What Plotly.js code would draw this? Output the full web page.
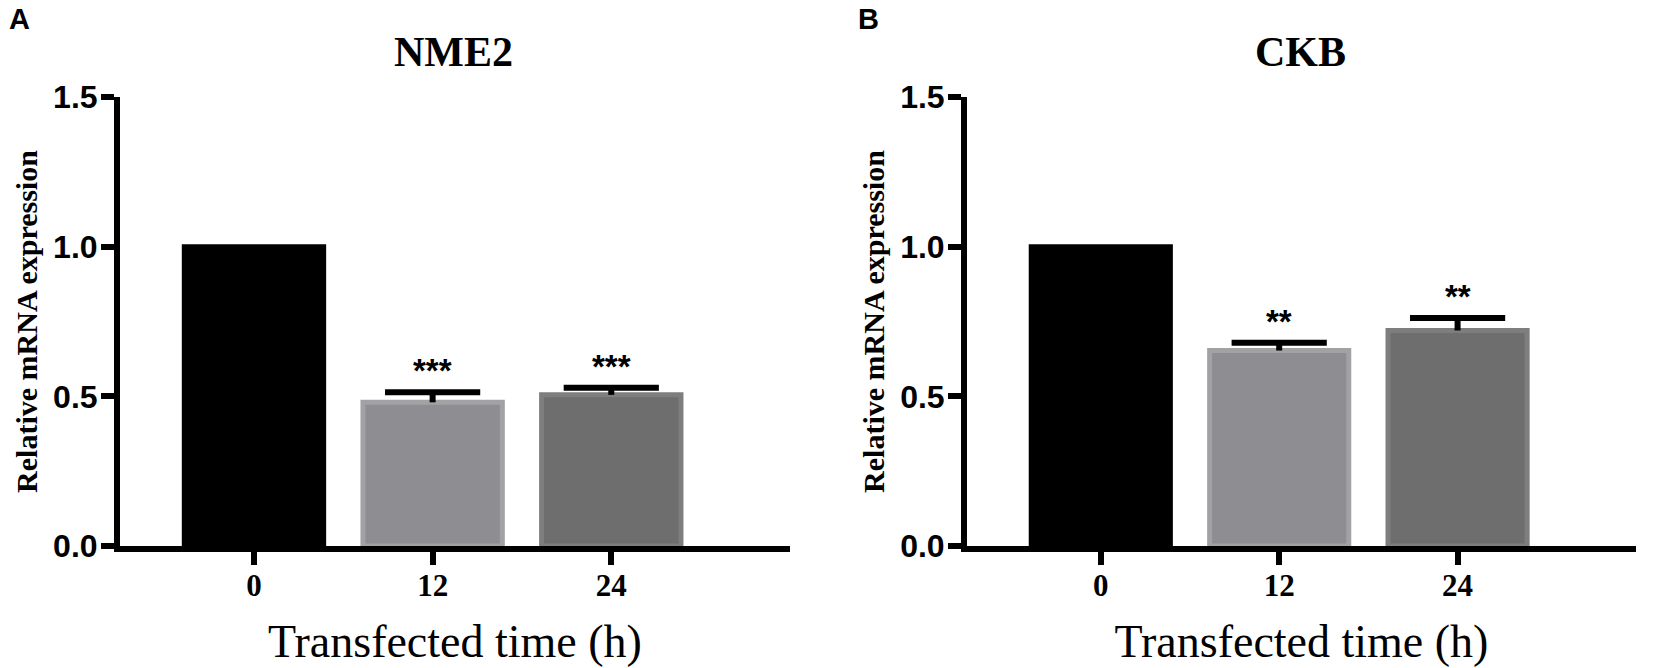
<!DOCTYPE html>
<html>
<head>
<meta charset="utf-8">
<script src="https://cdn.plot.ly/plotly-3.0.1.min.js"></script>
<style>
  body { margin: 0; background: #fff; }
  #chart { width: 1655px; height: 668px; }
</style>
</head>
<body>
<div id="chart"></div>
<script>
// hours after transfection
var times = ["0", "12", "24"]

// NME2 panel
var nme2Mean = [1.0, 0.48, 0.505]
var nme2Sem = [0, 0.034, 0.024]
var nme2Sig = ["", "***", "***"]

// CKB panel
var ckbMean = [1.0, 0.653, 0.72]
var ckbSem = [0, 0.026, 0.042]
var ckbSig = ["", "**", "**"]

var barFill = ["#000000", "#8e8e92", "#6e6e6e"]
var barEdge = ["#000000", "#a2a2a5", "#7e7e7e"]

var SERIF = "Liberation Serif, Times New Roman, serif"
var SANS = "Liberation Sans, Arial, sans-serif"

function barTrace(means, sem, xa, ya) {
    return {
        type: "bar",
        x: times,
        y: means,
        xaxis: xa,
        yaxis: ya,
        width: 0.78,
        marker: { color: barFill, line: { color: barEdge, width: 5 } },
        // stem only, the cap is drawn by capTrace
        error_y: {
            type: "data",
            symmetric: false,
            array: sem,
            arrayminus: [0, 0, 0],
            color: "#000",
            thickness: 6,
            width: 0,
        },
        showlegend: false,
    }
}

function capTrace(means, sem, xa, ya) {
    return {
        type: "scatter",
        mode: "markers",
        x: times,
        y: means.map(function (m, i) { return sem[i] ? m + sem[i] : null }),
        xaxis: xa,
        yaxis: ya,
        marker: { symbol: "line-ew", size: 68, line: { color: "#000", width: 6 } },
        showlegend: false,
    }
}

function starNotes(means, sem, sig, xa, ya) {
    var notes = []
    for (var i = 0; i < times.length; i++) {
        if (!sig[i]) continue
        notes.push({
            x: i,
            y: means[i] + sem[i],
            xref: xa,
            yref: ya,
            text: "<b>" + sig[i] + "</b>",
            showarrow: false,
            yanchor: "bottom",
            yshift: 1,
            font: { family: SANS, size: 33, color: "#000" },
        })
    }
    return notes
}

function xAxis(domain, anchor) {
    return {
        domain: domain,
        anchor: anchor,
        type: "category",
        range: [-0.75, 3.0],
        showline: true,
        linecolor: "#000",
        linewidth: 6,
        ticks: "outside",
        ticklen: 13,
        tickwidth: 6,
        tickcolor: "#000",
        ticklabelstandoff: -6,
        tickfont: { family: SERIF, size: 31, color: "#000", weight: "bold" },
        showgrid: false,
        zeroline: false,
        title: {
            text: "Transfected time (h)",
            font: { family: SERIF, size: 46, color: "#000" },
            standoff: 25,
        },
    }
}

function yAxis(domain, anchor) {
    return {
        domain: domain,
        anchor: anchor,
        range: [0, 1.5],
        tickvals: [0, 0.5, 1.0, 1.5],
        ticktext: ["0.0", "0.5", "1.0", "1.5"],
        showline: true,
        linecolor: "#000",
        linewidth: 6,
        ticks: "outside",
        ticklen: 13,
        tickwidth: 6,
        tickcolor: "#000",
        ticklabelstandoff: -3,
        tickfont: { family: SANS, size: 32, color: "#000", weight: "bold" },
        showgrid: false,
        zeroline: false,
        title: {
            text: "Relative mRNA expression",
            font: { family: SERIF, size: 30, color: "#000", weight: "bold" },
            standoff: 9,
        },
    }
}

var yDom = [0.1826, 0.8548]

function paperText(t, size, family) {
    return {
        text: t.text, showarrow: false,
        xref: "paper", yref: "paper",
        x: t.x / 1655, y: 1 - t.y / 668,
        xanchor: "center", yanchor: "middle",
        font: { family: family, size: size, color: "#000" },
    }
}

Plotly.newPlot(
    document.getElementById("chart"),
    [
        barTrace(nme2Mean, nme2Sem, "x", "y"),
        capTrace(nme2Mean, nme2Sem, "x", "y"),
        barTrace(ckbMean, ckbSem, "x2", "y2"),
        capTrace(ckbMean, ckbSem, "x2", "y2"),
    ],
    {
        width: 1655,
        height: 668,
        margin: { l: 0, r: 0, t: 0, b: 0 },
        paper_bgcolor: "#fff",
        plot_bgcolor: "#fff",
        xaxis: xAxis([0.0725, 0.4773], "y"),
        yaxis: yAxis(yDom, "x"),
        xaxis2: xAxis([0.5843, 0.9885], "y2"),
        yaxis2: yAxis(yDom, "x2"),
        annotations: [
            paperText({ text: "<b>NME2</b>", x: 454, y: 52 }, 42, SERIF),
            paperText({ text: "<b>CKB</b>", x: 1300, y: 52 }, 42, SERIF),
            paperText({ text: "<b>A</b>", x: 19, y: 19 }, 29, SANS),
            paperText({ text: "<b>B</b>", x: 868, y: 19 }, 29, SANS),
        ].concat(starNotes(nme2Mean, nme2Sem, nme2Sig, "x", "y"))
         .concat(starNotes(ckbMean, ckbSem, ckbSig, "x2", "y2")),
    },
    { staticPlot: true }
)
</script>
</body>
</html>
